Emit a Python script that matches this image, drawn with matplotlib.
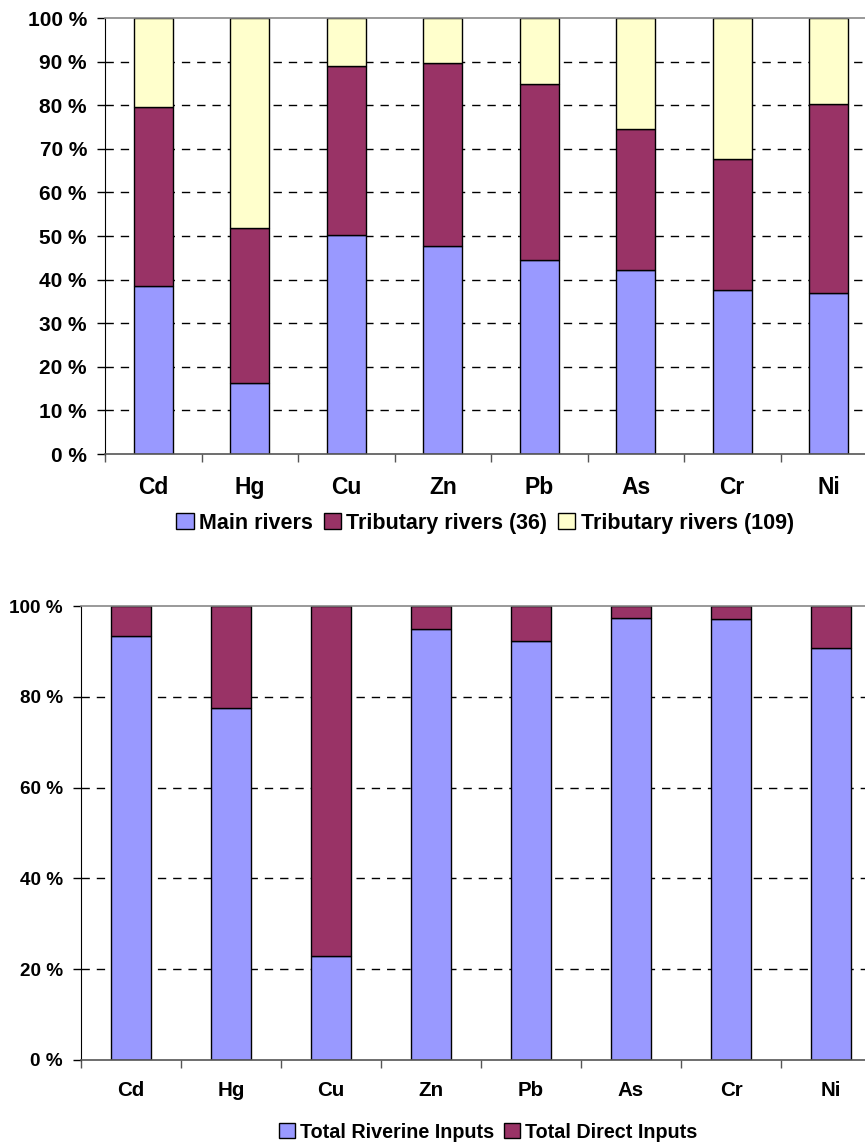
import matplotlib
matplotlib.use("Agg")
import matplotlib.pyplot as plt
from matplotlib.patches import Patch
from matplotlib.ticker import FixedLocator, FuncFormatter

# ----- data (percent shares) -----
metals = ["Cd", "Hg", "Cu", "Zn", "Pb", "As", "Cr", "Ni"]

main_rivers = [38.6, 16.3, 50.2, 47.7, 44.4, 42.3, 37.7, 37.0]
trib_36 = [41.1, 35.6, 38.8, 42.0, 40.5, 32.2, 30.0, 43.3]
trib_109 = [20.3, 48.1, 11.0, 10.3, 15.1, 25.5, 32.3, 19.7]

riverine = [93.3, 77.6, 22.8, 94.9, 92.4, 97.3, 97.1, 90.7]
direct = [6.7, 22.4, 77.2, 5.1, 7.6, 2.7, 2.9, 9.3]

top_labels = ["Main rivers", "Tributary rivers (36)", "Tributary rivers (109)"]
bottom_labels = ["Total Riverine Inputs", "Total Direct Inputs"]

C_MAIN = "#9999FF"
C_TRIB = "#993366"
C_YELL = "#FFFFCC"

plt.rcParams["font.family"] = ["Liberation Sans", "DejaVu Sans"]
plt.rcParams["font.weight"] = "bold"

W, H = 865, 1142
fig = plt.figure(figsize=(W / 100, H / 100), dpi=100)


def style_axes(ax, yticks, fs, xfs, tick_pad, xpad):
    n = len(metals)
    ax.set_xlim(-0.5, n - 0.5)
    ax.set_ylim(0, 100)
    ax.set_axisbelow(True)
    # dashed grid, solid grey line at 100 %
    for v in yticks[1:-1]:
        ax.axhline(v, color="black", lw=1.0, ls=(0, (6, 5)), zorder=0)
    ax.spines["right"].set_visible(False)
    ax.spines["top"].set_color("#888888")
    ax.spines["top"].set_linewidth(1.2)
    ax.spines["left"].set_color("black")
    ax.spines["bottom"].set_color("#555555")
    ax.spines["bottom"].set_linewidth(1.2)
    ax.set_yticks(yticks)
    ax.yaxis.set_major_formatter(FuncFormatter(lambda v, p: "%d %%" % v))
    ax.tick_params(axis="y", length=6, width=1, labelsize=fs, pad=tick_pad)
    # boundary ticks (major, unlabeled) + category labels (minor)
    ax.xaxis.set_major_locator(FixedLocator([i - 0.5 for i in range(n + 1)]))
    ax.xaxis.set_major_formatter(FuncFormatter(lambda v, p: ""))
    ax.set_xticks(list(range(n)), metals, minor=True)
    ax.tick_params(axis="x", which="major", length=6, width=1, color="#555555")
    ax.tick_params(axis="x", which="minor", length=0, labelsize=xfs, pad=xpad)


# ----- top chart -----
ax1 = fig.add_axes([105 / W, 1 - 454 / H, 772 / W, 436 / H])
x = list(range(len(metals)))
bw = 0.404
ax1.bar(x, main_rivers, bw, color=C_MAIN, edgecolor="black", lw=1, zorder=2)
ax1.bar(x, trib_36, bw, bottom=main_rivers, color=C_TRIB, edgecolor="black",
        lw=1, zorder=2)
b2 = [m + t for m, t in zip(main_rivers, trib_36)]
ax1.bar(x, trib_109, bw, bottom=b2, color=C_YELL, edgecolor="black", lw=1, zorder=2)
style_axes(ax1, list(range(0, 101, 10)), 15, 16.5, 7, 16)

h1 = [Patch(facecolor=c, edgecolor="black", lw=1) for c in (C_MAIN, C_TRIB, C_YELL)]
fig.legend(h1, top_labels, loc="center", bbox_to_anchor=(485 / W, 1 - 523 / H),
           ncol=3, frameon=False, fontsize=15.5, handlelength=0.8,
           handleheight=0.8, handletextpad=0.25, columnspacing=0.5,
           borderaxespad=0, borderpad=0)

# ----- bottom chart -----
ax2 = fig.add_axes([81 / W, 1 - 1060 / H, 800 / W, 454 / H])
bw2 = 0.4
ax2.bar(x, riverine, bw2, color=C_MAIN, edgecolor="black", lw=1, zorder=2)
ax2.bar(x, direct, bw2, bottom=riverine, color=C_TRIB, edgecolor="black", lw=1,
        zorder=2)
style_axes(ax2, list(range(0, 101, 20)), 13.6, 14.8, 7, 15)

h2 = [Patch(facecolor=c, edgecolor="black", lw=1) for c in (C_MAIN, C_TRIB)]
fig.legend(h2, bottom_labels, loc="center", bbox_to_anchor=(488 / W, 1 - 1132 / H),
           ncol=2, frameon=False, fontsize=14.2, handlelength=0.8,
           handleheight=0.8, handletextpad=0.25, columnspacing=0.5,
           borderaxespad=0, borderpad=0)

fig.savefig("out.png", dpi=100)
